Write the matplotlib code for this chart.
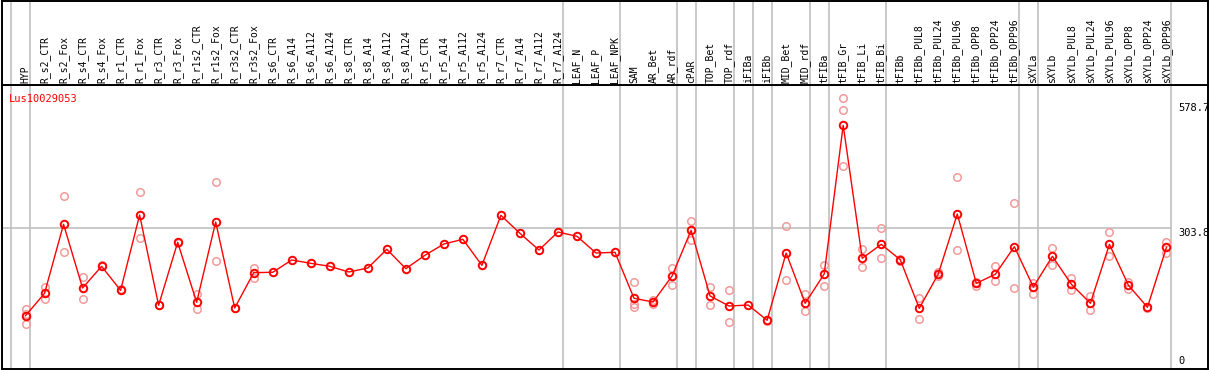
import matplotlib
matplotlib.use("Agg")
import matplotlib.pyplot as plt

gene = "Lus10029053"

categories = [
    "HYP", "R_s2_CTR", "R_s2_Fox", "R_s4_CTR", "R_s4_Fox", "R_r1_CTR", "R_r1_Fox",
    "R_r3_CTR", "R_r3_Fox", "R_r1s2_CTR", "R_r1s2_Fox", "R_r3s2_CTR", "R_r3s2_Fox",
    "R_s6_CTR", "R_s6_A14", "R_s6_A112", "R_s6_A124", "R_s8_CTR", "R_s8_A14",
    "R_s8_A112", "R_s8_A124", "R_r5_CTR", "R_r5_A14", "R_r5_A112", "R_r5_A124",
    "R_r7_CTR", "R_r7_A14", "R_r7_A112", "R_r7_A124", "LEAF_N", "LEAF_P", "LEAF_NPK",
    "SAM", "AR_Bet", "AR_rdf", "cPAR", "TOP_Bet", "TOP_rdf", "iFIBa", "iFIBb",
    "MID_Bet", "MID_rdf", "tFIBa", "tFIB_Gr", "tFIB_Li", "tFIB_Bi", "tFIBb",
    "tFIBb_PUL8", "tFIBb_PUL24", "tFIBb_PUL96", "tFIBb_OPP8", "tFIBb_OPP24",
    "tFIBb_OPP96", "sXYLa", "sXYLb", "sXYLb_PUL8", "sXYLb_PUL24", "sXYLb_PUL96",
    "sXYLb_OPP8", "sXYLb_OPP24", "sXYLb_OPP96",
]

means = [
    111.5, 160.7, 312.5, 172.4, 220.1, 167.3, 333.0, 134.4, 272.9, 141.0, 317.6,
    128.4, 206.1, 207.0, 234.0, 226.7, 220.1, 207.6, 216.4, 257.5, 214.9, 244.3,
    269.2, 279.5, 222.3, 332.3, 292.7, 256.0, 295.6, 286.1, 249.4, 250.9, 149.8,
    141.6, 198.8, 299.3, 154.8, 132.8, 135.0, 101.4, 249.4, 138.8, 203.2, 530.2,
    237.7, 268.5, 234.7, 127.8, 203.2, 335.2, 182.8, 202.6, 263.3, 174.6, 242.1,
    180.6, 138.8, 268.5, 178.4, 130.0, 261.9,
]

replicates = [
    [126.2, 92.6, 115.0], [174.0, 149.0], [374.1, 250.9], [196.0, 147.6], [222.5],
    [170.2], [382.9, 281.7], [135.5], [272.0], [158.6, 125.6], [404.9, 231.1],
    [129.5], [215.7, 195.1], [], [], [], [], [], [], [], [], [], [], [], [], [], [],
    [], [], [], [], [], [185.0, 136.6, 130.6], [146.0, 137.2], [216.4, 179.7],
    [319.8, 277.3], [174.0, 134.4], [168.0, 97.0], [], [100.0], [308.1, 189.4],
    [159.2, 121.2], [223.0, 176.2], [589.6, 563.2, 440.1], [258.2, 219.3],
    [303.7, 237.7], [237.0, 232.0], [149.8, 103.6], [207.0, 199.0], [415.9, 256.0],
    [185.0, 176.0], [220.1, 187.8], [358.7, 171.8], [183.4, 159.9], [259.7, 223.0],
    [194.4, 167.3], [154.8, 123.4], [295.6, 242.1], [186.3, 170.9], [129.0],
    [273.6, 250.1],
]

# last category of each tissue group (a gray separator is drawn after it)
group_ends = [-1, 0, 28, 31, 34, 35, 37, 38, 39, 41, 42, 45, 52, 53, 60]

y_ticks = [578.7, 303.8, 0]

W, H = 1209, 370
fig = plt.figure(figsize=(W / 100, H / 100), dpi=100)

left = 1.5 / W
width = 1206 / W
ax = fig.add_axes([left, 1 / H, width, 284 / H])
head = fig.add_axes([left, 285 / H, width, 84.5 / H], sharex=ax)

xmin, xmax = -24 / 19, 1181 / 19
ax.set_xlim(xmin, xmax)
ax.set_ylim((366.4 - 369) / 0.4547, (366.4 - 85) / 0.4547)
head.set_ylim(0, 1)

red = "#ff0000"
pale = "#f29a9a"
grid = "#c0c0c0"
mono = "DejaVu Sans Mono"

for a in (ax, head):
    a.set_xticks([])
    a.set_yticks([])
    for s in a.spines.values():
        s.set_linewidth(1.4)
        s.set_color("black")
    for g in group_ends:
        a.axvline(g + 0.24, color=grid, lw=1.2, zorder=0)

ax.hlines(y_ticks[1], xmin, group_ends[-1] + 0.24, color=grid, lw=1.2, zorder=0)

xs = list(range(len(categories)))

rx, ry = [], []
for i, reps in enumerate(replicates):
    for v in reps:
        rx.append(i)
        ry.append(v)
ax.plot(rx, ry, "o", ls="none", ms=5.4, mfc="none", mec=pale, mew=1.1, zorder=2)
ax.plot(xs, means, "-", color=red, lw=1.0, zorder=3)
ax.plot(xs, means, "o", ls="none", ms=5.4, mfc="none", mec=red, mew=1.4, zorder=4)

for i, name in enumerate(categories):
    head.text(i, 0.025, name, rotation=90, ha="center", va="bottom",
              fontsize=7, family=mono, color="black")

ax.text(0.0065, 0.97, gene, transform=ax.transAxes, ha="left", va="top",
        fontsize=7.5, family=mono, color=red)

lab_x = 60.63
ax.text(lab_x, y_ticks[0], "578.7", ha="left", va="top", fontsize=7.5, family=mono)
ax.text(lab_x, y_ticks[1], "303.8", ha="left", va="top", fontsize=7.5, family=mono)
ax.text(lab_x, y_ticks[2], "0", ha="left", va="bottom", fontsize=7.5, family=mono)

fig.savefig("out.png", dpi=100, facecolor="white")
